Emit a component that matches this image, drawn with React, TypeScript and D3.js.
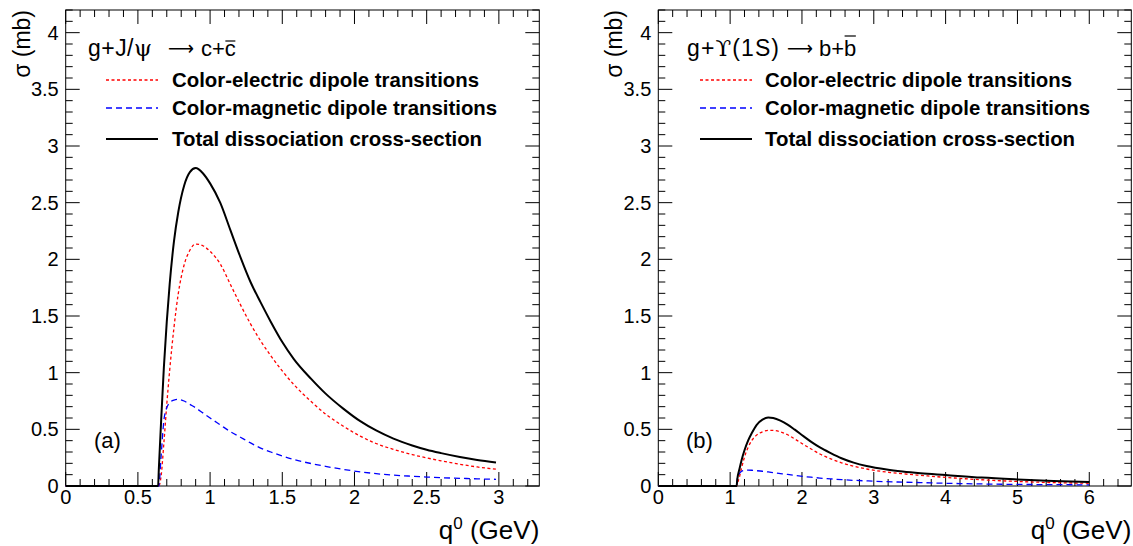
import React, { useLayoutEffect, useRef, useState } from 'react';
import * as d3 from 'd3';

// ---------- DATA ----------
// Panel (a): g + J/psi -> c + cbar
const jpsiQ0 = [0, 0.64, 0.645, 0.66, 0.68, 0.70, 0.72, 0.75, 0.78, 0.82, 0.86, 0.90, 0.95, 1.0, 1.07, 1.14, 1.21, 1.28, 1.35, 1.42, 1.5, 1.58, 1.7, 1.8, 1.92, 2.04, 2.15, 2.27, 2.4, 2.5, 2.6, 2.73, 2.85, 2.98];
const jpsiElectric = [0, 0, 0, 0.08, 0.38, 0.72, 1.02, 1.40, 1.70, 1.95, 2.08, 2.135, 2.12, 2.07, 1.96, 1.78, 1.60, 1.43, 1.28, 1.15, 1.015, 0.895, 0.745, 0.635, 0.53, 0.44, 0.375, 0.323, 0.277, 0.248, 0.222, 0.192, 0.168, 0.148];
const jpsiMagnetic = [0, 0, 0, 0.25, 0.58, 0.69, 0.735, 0.758, 0.764, 0.75, 0.72, 0.69, 0.645, 0.60, 0.54, 0.48, 0.43, 0.38, 0.335, 0.30, 0.265, 0.234, 0.198, 0.173, 0.147, 0.125, 0.109, 0.096, 0.086, 0.079, 0.073, 0.068, 0.063, 0.059];
const jpsiTotal = [0, 0, 0.15, 0.55, 1.05, 1.45, 1.78, 2.16, 2.42, 2.65, 2.77, 2.805, 2.76, 2.67, 2.50, 2.26, 2.02, 1.80, 1.62, 1.45, 1.27, 1.12, 0.945, 0.815, 0.685, 0.572, 0.49, 0.418, 0.358, 0.32, 0.29, 0.256, 0.23, 0.208];

// Panel (b): g + Upsilon(1S) -> b + bbar
const upsQ0 = [0, 1.09, 1.10, 1.13, 1.16, 1.2, 1.25, 1.3, 1.37, 1.45, 1.53, 1.6, 1.7, 1.8, 1.9, 2.02, 2.15, 2.25, 2.4, 2.55, 2.72, 2.9, 3.18, 3.4, 3.65, 4.0, 4.5, 5.0, 5.5, 6.0];
const upsElectric = [0, 0, 0.02, 0.08, 0.16, 0.255, 0.34, 0.40, 0.45, 0.478, 0.49, 0.49, 0.478, 0.452, 0.415, 0.367, 0.318, 0.282, 0.24, 0.205, 0.175, 0.15, 0.123, 0.108, 0.094, 0.076, 0.055, 0.04, 0.03, 0.024];
const upsMagnetic = [0, 0, 0.06, 0.11, 0.13, 0.138, 0.14, 0.139, 0.135, 0.13, 0.124, 0.118, 0.11, 0.102, 0.093, 0.084, 0.076, 0.07, 0.063, 0.056, 0.05, 0.045, 0.038, 0.034, 0.03, 0.024, 0.018, 0.014, 0.012, 0.01];
const upsTotal = [0, 0, 0.06, 0.15, 0.23, 0.315, 0.40, 0.465, 0.54, 0.585, 0.605, 0.60, 0.577, 0.542, 0.497, 0.44, 0.38, 0.34, 0.29, 0.245, 0.206, 0.176, 0.145, 0.128, 0.113, 0.097, 0.074, 0.058, 0.045, 0.035];

const yTickLabels = ['0', '0.5', '1', '1.5', '2', '2.5', '3', '3.5', '4'];
const jpsiXTickLabels = ['0', '0.5', '1', '1.5', '2', '2.5', '3'];
const upsXTickLabels = ['0', '1', '2', '3', '4', '5', '6'];
const legendLabels = [
  'Color-electric dipole transitions',
  'Color-magnetic dipole transitions',
  'Total dissociation cross-section',
];

const FONT = "'Liberation Sans', Arial, Helvetica, sans-serif";

const TOP = 10;
const BOTTOM = 486;
const Y_MAX = 4.2;

type TitleSpec = {
  before: string;
  symbol: string;
  after: string;
  initialX: number;
  initialW: number;
  arrowX: number;
  finalX: number;
  final: string;
  bar: string;
  rise: number;
};

function Title({ spec, y }: { spec: TitleSpec; y: number }) {
  const ref = useRef<SVGTextElement>(null);
  const [ext, setExt] = useState<{ x: number; w: number } | null>(null);
  useLayoutEffect(() => {
    const el = ref.current;
    if (!el) return;
    const n = el.getNumberOfChars();
    const r = el.getExtentOfChar(n - 1);
    setExt({ x: r.x, w: r.width });
  }, []);
  return (
    <g fontFamily={FONT} fontSize={22}>
      <text x={spec.initialX} y={y} fontSize={23} textLength={spec.initialW} lengthAdjust="spacing">
        {spec.before}
        <tspan fontFamily="'DejaVu Serif', serif">{spec.symbol}</tspan>
        {spec.after}
      </text>
      <text x={spec.arrowX} y={y - 1} fontFamily="'DejaVu Sans', sans-serif" fontSize={20} textLength={26} lengthAdjust="spacingAndGlyphs">⟶</text>
      <text ref={ref} x={spec.finalX} y={y}>
        {spec.final}{spec.bar}
      </text>
      {ext && (
        <line x1={ext.x + 0.5} x2={ext.x + ext.w - 0.5} y1={y - spec.rise} y2={y - spec.rise} stroke="#000" strokeWidth={1.2} />
      )}
    </g>
  );
}

type PanelProps = {
  left: number;
  right: number;
  xMax: number;
  xMinorStep: number;
  xTickLabels: string[];
  q0: number[];
  electric: number[];
  magnetic: number[];
  total: number[];
  title: TitleSpec;
  tag: string;
  legendLineX: [number, number];
  legendTextX: number;
  tagX: number;
};

function Panel(p: PanelProps) {
  const x = d3.scaleLinear().domain([0, p.xMax]).range([p.left, p.right]);
  const y = d3.scaleLinear().domain([0, Y_MAX]).range([BOTTOM, TOP]);

  const xMajors = p.xTickLabels.map(Number);
  const nMinorX = Math.floor(p.xMax / p.xMinorStep + 1e-6);
  const xMinors = d3.range(0, nMinorX + 1).map(i => +(i * p.xMinorStep).toFixed(4))
    .filter(v => !xMajors.some(m => Math.abs(m - v) < 1e-6));
  const yMajors = yTickLabels.map(Number);
  const nMinorY = Math.floor(Y_MAX / 0.1 + 1e-6);
  const yMinors = d3.range(0, nMinorY + 1).map(i => +(i * 0.1).toFixed(4))
    .filter(v => !yMajors.some(m => Math.abs(m - v) < 1e-6));

  const MAJ = 14;
  const MIN = 7;

  const mk = (vals: number[]) =>
    d3.line<number>()
      .x((_, i) => x(p.q0[i]))
      .y(v => y(v))
      .curve(d3.curveMonotoneX)(vals) || '';

  const legendRows = [
    { label: legendLabels[0], color: '#ff0000', dash: '3,2.5', width: 1.3, ly: 80 },
    { label: legendLabels[1], color: '#0000ff', dash: '6,4', width: 1.3, ly: 108 },
    { label: legendLabels[2], color: '#000000', dash: undefined, width: 2, ly: 139 },
  ];

  return (
    <g>
      <g stroke="#000" strokeWidth={1}>
        {xMajors.map(v => (
          <g key={'xM' + v}>
            <line x1={x(v)} x2={x(v)} y1={BOTTOM} y2={BOTTOM - MAJ} />
            <line x1={x(v)} x2={x(v)} y1={TOP} y2={TOP + MAJ} />
          </g>
        ))}
        {xMinors.map(v => (
          <g key={'xm' + v}>
            <line x1={x(v)} x2={x(v)} y1={BOTTOM} y2={BOTTOM - MIN} />
            <line x1={x(v)} x2={x(v)} y1={TOP} y2={TOP + MIN} />
          </g>
        ))}
        {yMajors.map(v => (
          <g key={'yM' + v}>
            <line x1={p.left} x2={p.left + MAJ} y1={y(v)} y2={y(v)} />
            <line x1={p.right} x2={p.right - MAJ} y1={y(v)} y2={y(v)} />
          </g>
        ))}
        {yMinors.map(v => (
          <g key={'ym' + v}>
            <line x1={p.left} x2={p.left + MIN} y1={y(v)} y2={y(v)} />
            <line x1={p.right} x2={p.right - MIN} y1={y(v)} y2={y(v)} />
          </g>
        ))}
      </g>
      <rect x={p.left} y={TOP} width={p.right - p.left} height={BOTTOM - TOP} fill="none" stroke="#000" strokeWidth={1} />

      <g fontFamily={FONT} fontSize={20} fill="#000">
        {p.xTickLabels.map(t => (
          <text key={'xl' + t} x={x(Number(t))} y={504} textAnchor="middle">{t}</text>
        ))}
        {yTickLabels.map(t => (
          <text key={'yl' + t} x={p.left - 7} y={y(Number(t))} dy="0.35em" textAnchor="end">{t}</text>
        ))}
      </g>

      <text x={p.right} y={539} textAnchor="end" fontFamily={FONT} fontSize={26}>
        q<tspan fontSize={17} dy={-10}>0</tspan><tspan dy={10}> (GeV)</tspan>
      </text>
      <text transform={`translate(${p.left - 36},${TOP}) rotate(-90)`} textAnchor="end" fontFamily={FONT} fontSize={23}>
        σ (mb)
      </text>

      <path d={mk(p.electric)} fill="none" stroke="#ff0000" strokeWidth={1.3} strokeDasharray="3,2.5" />
      <path d={mk(p.magnetic)} fill="none" stroke="#0000ff" strokeWidth={1.3} strokeDasharray="6,4" />
      <path d={mk(p.total)} fill="none" stroke="#000" strokeWidth={2} />

      <Title spec={p.title} y={56} />
      {legendRows.map(r => (
        <g key={r.label}>
          <line x1={p.legendLineX[0]} x2={p.legendLineX[1]} y1={r.ly} y2={r.ly}
            stroke={r.color} strokeWidth={r.width} strokeDasharray={r.dash} />
          <text x={p.legendTextX} y={r.ly} dy="0.35em" fontFamily={FONT} fontSize={20.4} fontWeight="bold">{r.label}</text>
        </g>
      ))}
      <text x={p.tagX} y={440} dy="0.35em" fontFamily={FONT} fontSize={22}>{p.tag}</text>
    </g>
  );
}

const jpsiTitle: TitleSpec = {
  before: 'g+J/', symbol: 'ψ', after: '', initialX: 88, initialW: 64,
  arrowX: 168, finalX: 201, final: 'c+', bar: 'c', rise: 15,
};
const upsTitle: TitleSpec = {
  before: 'g+', symbol: '\u03D2', after: '(1S)', initialX: 687, initialW: 92,
  arrowX: 787, finalX: 819, final: 'b+', bar: 'b', rise: 20,
};

export default function App() {
  return (
    <svg width={1133} height={546} style={{ position: 'absolute', left: 0, top: 0, background: '#fff' }}>
      <rect x={0} y={0} width={1133} height={546} fill="#fff" />
      <Panel
        left={65.7} right={539.3} xMax={3.28} xMinorStep={0.1} xTickLabels={jpsiXTickLabels}
        q0={jpsiQ0} electric={jpsiElectric} magnetic={jpsiMagnetic} total={jpsiTotal}
        title={jpsiTitle} tag="(a)"
        legendLineX={[106, 158]} legendTextX={172} tagX={94}
      />
      <Panel
        left={658.3} right={1131.3} xMax={6.585} xMinorStep={0.2} xTickLabels={upsXTickLabels}
        q0={upsQ0} electric={upsElectric} magnetic={upsMagnetic} total={upsTotal}
        title={upsTitle} tag="(b)"
        legendLineX={[700, 752]} legendTextX={765} tagX={686}
      />
    </svg>
  );
}
